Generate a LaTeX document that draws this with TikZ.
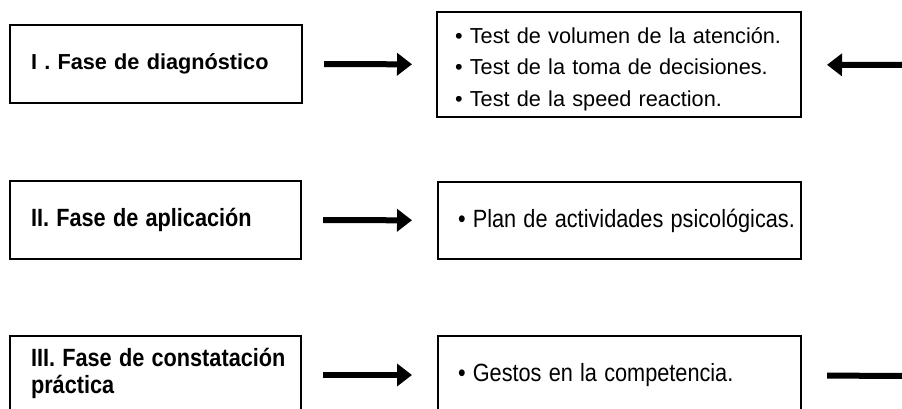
\documentclass[tikz,border=0pt]{standalone}
\usepackage{fontspec}
\setmainfont{Liberation Sans}
\usepackage{graphicx}
\usetikzlibrary{arrows.meta}
\newcommand{\vstretch}[1]{\scalebox{1}[1.15]{#1}}
\begin{document}
\begin{tikzpicture}[x=1pt,y=-1pt,
  box/.style={draw=black, line width=2.4pt, inner xsep=21pt, inner ysep=0pt,
    outer sep=0pt, align=left, anchor=north west,
    font=\fontsize{21.7}{31.5}\selectfont},
  arr/.style={line width=6pt, -{Triangle[length=15pt,width=22pt]}},
  shaft/.style={line width=6pt}
]
\clip (0,0) rectangle (902,409);
\fill[white] (0,0) rectangle (902,409);

% row 1
\node[box, minimum width=292pt, minimum height=78pt, text width=250pt] (b11) at (10,25)
  {\textbf{I . Fase de diagnóstico}};
\node[box, minimum width=364pt, minimum height=105pt, text width=328pt, inner xsep=18pt] (b12) at (437,12)
  {\raisebox{-4pt}[\height][\depth]{\fontsize{21.7}{31.5}\selectfont\begin{tabular}{@{}l@{}}
   \textbullet{} Test de volumen de la atención.\\
   \textbullet{} Test de la toma de decisiones.\\
   \textbullet{} Test de la speed reaction.\end{tabular}}};

% row 2
\node[box, minimum width=291pt, minimum height=78pt, text width=249pt] (b21) at (10,181)
  {\vstretch{\textbf{II. Fase de aplicación}}};
\node[box, minimum width=363pt, minimum height=77pt, text width=323pt, inner xsep=20pt] (b22) at (438,182)
  {\vstretch{\textbullet{} Plan de actividades psicológicas.}};

% row 3
\node[box, minimum width=291pt, minimum height=78pt, text width=249pt] (b31) at (10,336)
  {\vstretch{\fontsize{21.7}{23.5}\selectfont\begin{tabular}{@{}l@{}}\textbf{III. Fase de constatación}\\ \textbf{práctica}\end{tabular}}};
\node[box, minimum width=363pt, minimum height=78pt, text width=323pt, inner xsep=20pt] (b32) at (438,336)
  {\vstretch{\textbullet{} Gestos en la competencia.}};

% connectors
\draw[arr, shorten <=22pt, shorten >=25pt] (b11) -- (b12);
\draw[arr, shorten <=22pt, shorten >=26pt] (b21) -- (b22);
\draw[arr, shorten <=22pt, shorten >=26pt] (b31) -- (b32);

\coordinate (r1) at (940,65);
\draw[arr, shorten >=26pt] (r1) -- (b12);
\coordinate (r3) at (940,376);
\draw[shaft, shorten <=26pt] (b32) -- (r3);
\end{tikzpicture}
\end{document}
